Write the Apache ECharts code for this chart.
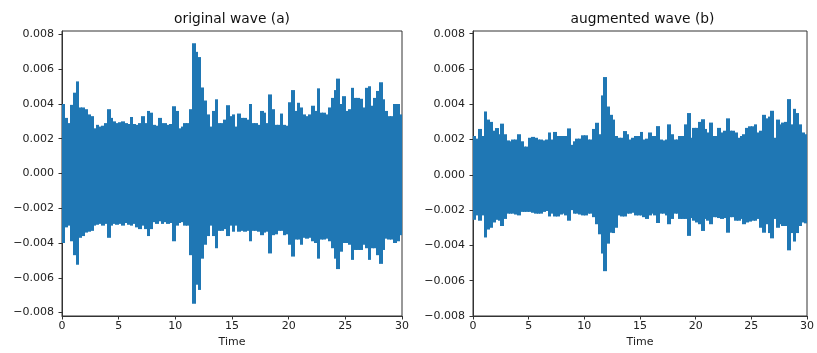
<!DOCTYPE html>
<html><head><meta charset="utf-8">
<script src="https://cdn.jsdelivr.net/npm/echarts@6/dist/echarts.min.js"></script>
<style>html,body{margin:0;padding:0;background:#fff}#c{width:817px;height:353px}</style>
</head><body><div id="c"></div>
<script>
// Envelope of each waveform, read per 0.25 s bin (values in thousandths, ×0.001)
const BIN = 0.25;
const xTicks = [0, 5, 10, 15, 20, 25, 30];
const yTicks = [-0.008, -0.006, -0.004, -0.002, 0, 0.002, 0.004, 0.006, 0.008];
const titles = ['original wave (a)', 'augmented wave (b)'];
const xName = 'Time';

const origUpper = [
  4.0,3.2,2.9,3.95, 4.65,5.3,3.8,3.8, 3.7,3.4,3.3,2.6, 2.8,2.7,2.75,2.9, 3.7,3.2,3.0,2.9,
  2.95,3.0,2.9,2.85, 3.25,2.85,2.8,2.9, 3.3,2.9,3.6,3.5, 2.8,2.75,3.2,2.9, 2.9,2.8,2.85,3.87,
  3.6,2.6,2.7,2.9, 2.9,3.7,7.5,7.0, 6.7,4.95,4.2,3.4, 2.7,3.6,4.27,2.9, 2.9,3.1,3.93,3.3,
  3.4,2.7,3.45,3.2, 3.2,3.1,4.0,2.9, 2.9,2.8,3.6,3.5, 2.9,4.55,3.7,2.8, 2.8,3.45,2.8,2.75,
  4.1,4.8,3.6,4.07, 3.8,3.4,3.3,3.4, 3.9,3.6,4.9,3.5, 3.5,3.4,3.8,4.35, 4.8,5.46,4.0,4.45,
  3.6,3.7,4.93,4.35, 4.35,4.3,3.8,4.93, 5.02,3.9,4.35,4.75, 5.25,4.27,3.6,3.3, 3.3,4.0,4.0,3.4
];
const origLower = [
  -4.0,-3.1,-3.0,-3.9, -4.7,-5.25,-3.7,-3.6, -3.4,-3.35,-3.3,-3.0, -2.95,-2.9,-3.0,-2.9, -3.7,-3.0,-2.9,-2.95,
  -2.9,-3.0,-2.85,-2.95, -3.0,-2.9,-3.1,-3.2, -3.0,-3.2,-3.6,-3.2, -2.8,-2.9,-2.75,-2.9, -2.8,-2.9,-2.85,-3.9,
  -3.0,-2.85,-2.8,-3.0, -3.0,-4.7,-7.5,-6.4, -6.7,-4.9,-4.1,-3.6, -3.0,-3.6,-4.3,-3.3, -3.3,-3.2,-3.6,-3.0,
  -3.35,-3.0,-3.35,-3.3, -3.35,-3.3,-3.9,-3.3, -3.3,-3.35,-3.55,-3.4, -3.35,-4.6,-3.55,-3.5, -3.3,-3.3,-3.55,-3.5,
  -4.1,-4.78,-3.8,-3.8, -4.1,-3.7,-3.75,-3.7, -3.9,-4.0,-4.9,-3.8, -3.8,-3.75,-3.9,-4.3, -4.9,-5.5,-4.5,-4.0,
  -4.0,-4.1,-4.97,-4.4, -4.4,-4.4,-4.1,-4.3, -4.97,-4.3,-4.3,-4.7, -5.2,-4.4,-3.75,-3.8, -3.8,-4.0,-3.9,-3.55
];
const augUpper = [
  2.2,2.05,2.6,2.2, 3.59,3.13,3.0,2.5, 2.65,2.3,2.9,2.3, 1.95,1.9,2.0,2.0, 2.3,1.9,1.6,1.6,
  2.1,2.15,2.1,2.0, 2.0,1.95,2.0,2.4, 2.0,2.43,2.2,2.2, 2.2,2.2,2.63,1.7, 1.9,2.05,2.05,2.24,
  2.24,2.0,2.0,2.6, 2.95,2.3,4.5,5.54, 3.87,3.4,3.13,2.2, 2.1,2.1,2.48,2.3, 2.0,2.1,2.2,2.2,
  2.43,2.0,2.05,2.4, 2.2,2.2,2.76,2.0, 1.95,2.0,2.86,2.3, 2.0,2.0,2.2,2.2, 2.86,3.5,2.1,2.66,
  2.66,3.0,3.15,2.6, 2.4,2.96,2.2,2.2, 2.66,2.4,2.5,3.2, 2.5,2.5,2.4,2.1, 2.2,2.3,2.66,2.75,
  2.75,2.86,2.4,2.5, 3.4,3.2,3.3,3.63, 2.1,3.13,2.86,2.96, 3.0,4.29,2.86,3.74, 3.5,2.86,2.4,2.3
];
const augLower = [
  -2.55,-2.3,-2.6,-2.3, -3.55,-3.1,-3.0,-2.7, -2.55,-2.6,-2.9,-2.5, -2.2,-2.2,-2.2,-2.25, -2.3,-2.1,-2.1,-2.1,
  -2.1,-2.15,-2.2,-2.2, -2.2,-2.1,-2.05,-2.36, -2.2,-2.36,-2.36,-2.25, -2.2,-2.3,-2.6,-2.0, -2.2,-2.2,-2.25,-2.3,
  -2.3,-2.2,-2.2,-2.4, -2.8,-3.37,-4.46,-5.46, -3.9,-3.28,-3.3,-3.0, -2.3,-2.36,-2.36,-2.2, -2.2,-2.15,-2.3,-2.3,
  -2.3,-2.4,-2.5,-2.3, -2.2,-2.3,-2.73,-2.2, -2.2,-2.3,-2.8,-2.5, -2.2,-2.2,-2.5,-2.5, -2.5,-3.46,-2.45,-2.6,
  -2.7,-2.8,-3.18,-2.5, -2.6,-2.8,-2.4,-2.4, -2.45,-2.5,-2.45,-3.28, -2.4,-2.4,-2.6,-2.6, -2.5,-2.8,-2.7,-2.65,
  -2.6,-2.6,-2.5,-3.0, -3.28,-2.8,-3.3,-3.6, -2.5,-3.0,-2.8,-2.9, -2.9,-4.28,-3.3,-3.78, -3.3,-2.9,-2.7,-2.75
];

// One data item per bin: [bin start time, max, min]
function bins(upper, lower) {
  return upper.map((u, i) => [i * BIN, u * 1e-3, lower[i] * 1e-3]);
}

const FONT = 'DejaVu Sans';
const AX = '#333';
const LBL = '#222';
const BLUE = '#1f77b4';
function fmtY(v) {
  if (Math.abs(v) < 1e-12) return '0.000';
  return v.toFixed(3).replace('-', '\u2212');
}
function xAxis(idx) {
  return {
    gridIndex: idx, type: 'value', min: 0, max: 30, position: 'bottom',
    name: xName, nameLocation: 'middle', nameGap: 21,
    nameTextStyle: {fontFamily: FONT, fontSize: 11, color: LBL},
    axisLine: {show: true, onZero: false, lineStyle: {color: AX, width: 1}},
    axisTick: {show: true, inside: false, length: 3.5, lineStyle: {color: AX}, customValues: xTicks},
    axisLabel: {fontFamily: FONT, fontSize: 11, color: LBL, margin: 5, customValues: xTicks},
    splitLine: {show: false}
  };
}
function yAxis(idx, mn, mx) {
  return {
    gridIndex: idx, type: 'value', min: mn, max: mx, position: 'left',
    axisLine: {show: true, onZero: false, lineStyle: {color: AX, width: 1}},
    axisTick: {show: true, inside: false, length: 3.5, lineStyle: {color: AX}, customValues: yTicks},
    axisLabel: {fontFamily: FONT, fontSize: 11, color: LBL, margin: 8, formatter: fmtY, customValues: yTicks},
    splitLine: {show: false}
  };
}
function renderBin(params, api) {
  const t = api.value(0);
  const p0 = api.coord([t, api.value(1)]);
  const p1 = api.coord([t + BIN, api.value(2)]);
  const cs = params.coordSys;
  // snap horizontally to whole pixels so neighbouring bins join without seams
  const x0 = Math.max(Math.floor(p0[0]), cs.x);
  const x1 = Math.min(Math.ceil(p1[0]), cs.x + cs.width);
  const y0 = Math.max(p0[1], cs.y);
  const y1 = Math.min(p1[1], cs.y + cs.height);
  return {type: 'rect', shape: {x: x0, y: y0, width: x1 - x0, height: y1 - y0}, style: {fill: BLUE}};
}
function wave(idx, data) {
  return {
    type: 'custom', xAxisIndex: idx, yAxisIndex: idx, data: data,
    encode: {x: 0, y: [1, 2]}, renderItem: renderBin, silent: true
  };
}

const chart = echarts.init(document.getElementById('c'), null, {renderer: 'canvas'});
chart.setOption({
  animation: false,
  backgroundColor: '#fff',
  grid: [
    {left: 62, top: 31, width: 340, height: 287, show: true, borderColor: AX, borderWidth: 1, containLabel: false},
    {left: 473, top: 31, width: 339, height: 287, show: true, borderColor: AX, borderWidth: 1, containLabel: false}
  ],
  xAxis: [xAxis(0), xAxis(1)],
  yAxis: [yAxis(0, -0.0082, 0.0082), yAxis(1, -0.008, 0.00815)],
  series: [wave(0, bins(origUpper, origLower)), wave(1, bins(augUpper, augLower))],
  graphic: [
    {type: 'text', x: 232, y: 19.5, style: {text: titles[0], fontFamily: FONT, fontSize: 13.8, fill: '#111', textAlign: 'center', textVerticalAlign: 'middle'}},
    {type: 'text', x: 642.5, y: 19.5, style: {text: titles[1], fontFamily: FONT, fontSize: 13.8, fill: '#111', textAlign: 'center', textVerticalAlign: 'middle'}}
  ]
});
</script></body></html>
